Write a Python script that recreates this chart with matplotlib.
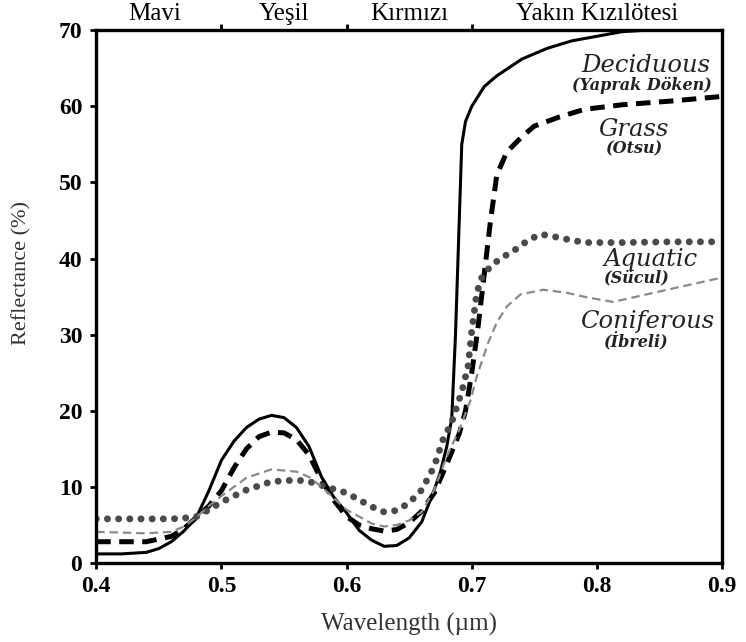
import matplotlib
matplotlib.use("Agg")
import matplotlib.pyplot as plt

# values
dec_x = [0.40, 0.42, 0.44, 0.45, 0.46, 0.47, 0.48, 0.49, 0.50, 0.51, 0.52, 0.53, 0.54, 0.55,
         0.56, 0.57, 0.58, 0.59, 0.60, 0.61, 0.62, 0.63, 0.64, 0.65, 0.66, 0.67, 0.675, 0.68,
         0.684, 0.687, 0.69, 0.692, 0.695, 0.70, 0.71, 0.72, 0.74, 0.76, 0.78, 0.80, 0.82,
         0.84, 0.86, 0.90]
dec_y = [1.2, 1.2, 1.4, 1.9, 2.8, 4.2, 6.0, 9.5, 13.5, 16.0, 17.8, 18.9, 19.4, 19.1,
         17.8, 15.3, 11.3, 8.6, 6.6, 4.3, 3.0, 2.2, 2.3, 3.3, 5.4, 9.6, 12.0, 15.3,
         19.0, 30.0, 45.0, 55.0, 58.0, 60.0, 62.6, 64.0, 66.2, 67.6, 68.6, 69.2, 69.8,
         70.0, 70.0, 70.0]

grass_x = [0.40, 0.44, 0.46, 0.47, 0.48, 0.49, 0.50, 0.51, 0.52, 0.53, 0.54, 0.55, 0.56,
           0.57, 0.58, 0.59, 0.60, 0.61, 0.62, 0.63, 0.64, 0.65, 0.66, 0.67, 0.68, 0.685,
           0.69, 0.695, 0.70, 0.705, 0.71, 0.715, 0.72, 0.728, 0.74, 0.75, 0.77, 0.79,
           0.82, 0.86, 0.90]
grass_y = [2.8, 2.8, 3.5, 4.5, 6.0, 7.5, 9.5, 12.5, 15.0, 16.6, 17.2, 17.1, 16.2,
           14.2, 10.9, 8.2, 6.1, 5.0, 4.5, 4.2, 4.4, 5.3, 6.8, 9.2, 13.0, 15.0,
           17.0, 20.0, 25.0, 31.0, 38.0, 45.0, 51.0, 54.0, 56.0, 57.4, 58.6, 59.6,
           60.2, 60.7, 61.3]

aqua_x = [0.40, 0.42, 0.44, 0.46, 0.47, 0.48, 0.49, 0.50, 0.52, 0.54, 0.56, 0.57, 0.58,
          0.60, 0.62, 0.63, 0.64, 0.65, 0.66, 0.67, 0.677, 0.684, 0.692, 0.697, 0.70,
          0.704, 0.708, 0.715, 0.723, 0.735, 0.745, 0.755, 0.765, 0.777, 0.79, 0.82,
          0.86, 0.90]
aqua_y = [5.8, 5.8, 5.8, 5.8, 5.9, 6.1, 7.0, 8.0, 9.6, 10.7, 10.9, 10.7, 10.2,
          9.2, 7.4, 6.7, 6.9, 7.9, 9.6, 12.7, 16.2, 18.5, 22.5, 25.8, 30.5,
          35.5, 37.5, 39.0, 40.0, 41.2, 42.4, 43.2, 42.9, 42.5, 42.1, 42.1,
          42.2, 42.2]

con_x = [0.40, 0.42, 0.44, 0.46, 0.47, 0.48, 0.49, 0.50, 0.52, 0.54, 0.56, 0.57, 0.58,
         0.60, 0.62, 0.63, 0.64, 0.65, 0.66, 0.67, 0.68, 0.69, 0.699, 0.704, 0.713,
         0.72, 0.728, 0.739, 0.757, 0.776, 0.792, 0.813, 0.829, 0.856, 0.90]
con_y = [4.1, 4.0, 3.9, 4.1, 4.8, 6.0, 7.5, 8.8, 11.2, 12.3, 12.0, 11.3, 10.0,
         7.0, 5.2, 4.8, 5.0, 5.6, 6.7, 9.6, 14.0, 17.5, 21.4, 24.5, 28.9,
         31.6, 33.7, 35.3, 35.9, 35.5, 34.9, 34.3, 34.9, 35.9, 37.5]

band_names = ["Mavi", "Yeşil", "Kırmızı", "Yakın Kızılötesi"]
band_pos = [0.447, 0.55, 0.65, 0.80]

labels = ["Deciduous", "Grass", "Aquatic", "Coniferous"]
labels_tr = ["(Yaprak Döken)", "(Otsu)", "(Sücul)", "(İbreli)"]
label_pos = [(0.839, 65.3), (0.829, 57.0), (0.843, 39.9), (0.840, 31.7)]
sub_pos = [(0.836, 62.7), (0.829, 54.4), (0.831, 37.5), (0.831, 29.2)]

serif = "Liberation Serif"

fig = plt.figure(figsize=(7.46, 6.42), dpi=100)
ax = fig.add_axes([0.129, 0.123, 0.839, 0.830])

ax.plot(dec_x, dec_y, color="black", lw=2.2, solid_joinstyle="round")
ax.plot(grass_x, grass_y, color="black", lw=3.6, dashes=(2.9, 1.7))
ax.plot(aqua_x, aqua_y, color="#4a4a4a", lw=5.0, linestyle=(0, (0.01, 1.6)),
        dash_capstyle="round")
ax.plot(con_x, con_y, color="#8a8a8a", lw=1.6, dashes=(3.8, 2.2))

ax.set_xlim(0.4, 0.9)
ax.set_ylim(0, 70)
ax.set_xticks([0.4, 0.5, 0.6, 0.7, 0.8, 0.9])
ax.set_yticks(range(0, 71, 10))
ax.tick_params(direction="out", length=4, width=2)
for t in ax.get_xticklabels() + ax.get_yticklabels():
    t.set_fontfamily(serif)
    t.set_fontweight("bold")
    t.set_fontsize(17)
ax.tick_params(axis="y", pad=6)
ax.tick_params(axis="x", pad=5)
for s in ax.spines.values():
    s.set_linewidth(2.4)

top = ax.secondary_xaxis("top")
top.set_xticks([0.5, 0.6, 0.7])
top.set_xticklabels([])
top.tick_params(direction="out", length=4, width=2)
top.spines["top"].set_visible(False)

for name, xp in zip(band_names, band_pos):
    ax.text(xp, 1.03, name, transform=ax.get_xaxis_transform(), ha="center",
            va="center", fontsize=18, family=serif)

for lab, (lx, ly) in zip(labels, label_pos):
    ax.text(lx, ly, lab, ha="center", va="center", fontsize=17.5,
            family="DejaVu Serif", style="italic", color="#222222")
for lab, (lx, ly) in zip(labels_tr, sub_pos):
    ax.text(lx, ly, lab, ha="center", va="center", fontsize=11.5,
            family="DejaVu Serif", style="italic", weight="bold", color="#222222")

ax.set_xlabel("Wavelength (µm)", fontsize=18, family=serif, color="#333333")
ax.set_ylabel("Reflectance (%)", fontsize=16, family=serif, color="#333333")
ax.xaxis.set_label_coords(0.5, -0.093)
ax.yaxis.set_label_coords(-0.104, 0.544)

fig.savefig("out.png", dpi=100)
